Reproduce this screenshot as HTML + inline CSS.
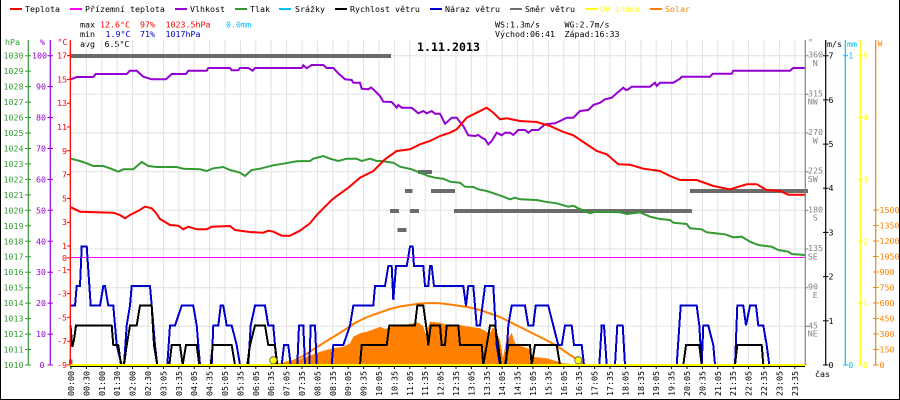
<!DOCTYPE html>
<html><head><meta charset="utf-8">
<style>
html,body{margin:0;padding:0;background:#fff;}
svg{display:block;}
text{font-family:"DejaVu Sans Mono","Liberation Mono",monospace;font-size:8.3px;}
</style></head>
<body>
<svg width="900" height="400" viewBox="0 0 900 400" xmlns="http://www.w3.org/2000/svg">
<rect width="900" height="400" fill="#fff"/>
<!-- border -->
<path d="M0.5 0 V399.5 H899.5 V0" fill="none" stroke="#000" stroke-width="1"/>

<!-- legend -->
<g>
<rect x="10" y="8" width="12" height="2" fill="#ff0000"/><text x="25" y="12" fill="#000">Teplota</text>
<rect x="70" y="8" width="12" height="2" fill="#ff00ff"/><text x="85" y="12" fill="#000">Přízemní teplota</text>
<rect x="175" y="8" width="12" height="2" fill="#9400d3"/><text x="190" y="12" fill="#000">Vlhkost</text>
<rect x="235" y="8" width="12" height="2" fill="#339933"/><text x="250" y="12" fill="#000">Tlak</text>
<rect x="279" y="8" width="12" height="2" fill="#00bfff"/><text x="295" y="12" fill="#000">Srážky</text>
<rect x="335" y="8" width="12" height="2" fill="#000"/><text x="350" y="12" fill="#000">Rychlost větru</text>
<rect x="430" y="8" width="12" height="2" fill="#0000cc"/><text x="445" y="12" fill="#000">Náraz větru</text>
<rect x="510" y="8" width="12" height="2" fill="#707070"/><text x="525" y="12" fill="#000">Směr větru</text>
<rect x="585" y="8" width="12" height="2" fill="#ffff00"/><text x="600" y="12" fill="#ffff00">UV index</text>
<rect x="650" y="8" width="12" height="2" fill="#ff8000"/><text x="665" y="12" fill="#ff8000">Solar</text>
</g>

<!-- stats -->
<text x="80" y="27.3" fill="#000">max</text>
<text x="100" y="27.3" fill="#ff0000">12.6°C</text>
<text x="140" y="27.3" fill="#ff0000">97%</text>
<text x="165.5" y="27.3" fill="#ff0000">1023.5hPa</text>
<text x="226" y="27.3" fill="#00bfff">0.0mm</text>
<text x="80" y="37" fill="#000">min</text>
<text x="105.5" y="37" fill="#0000cc">1.9°C</text>
<text x="140" y="37" fill="#0000cc">71%</text>
<text x="165.5" y="37" fill="#0000cc">1017hPa</text>
<text x="80" y="47" fill="#000">avg</text>
<text x="104.5" y="47" fill="#000">6.5°C</text>
<text x="495" y="27.3" fill="#000">WS:1.3m/s</text>
<text x="564.5" y="27.3" fill="#000">WG:2.7m/s</text>
<text x="495" y="37" fill="#000">Východ:06:41</text>
<text x="564.5" y="37" fill="#000">Západ:16:33</text>

<!-- grid -->
<path fill="none" stroke="#e2e2e2" stroke-width="1" d="M86.4 40V365M101.8 40V365M117.2 40V365M132.6 40V365M148 40V365M163.4 40V365M178.8 40V365M194.2 40V365M209.6 40V365M225 40V365M240.4 40V365M255.8 40V365M271.2 40V365M286.6 40V365M302 40V365M317.4 40V365M332.8 40V365M348.2 40V365M363.6 40V365M379 40V365M394.4 40V365M409.8 40V365M425.2 40V365M440.6 40V365M456 40V365M471.4 40V365M486.8 40V365M502.2 40V365M517.6 40V365M533 40V365M548.4 40V365M563.8 40V365M579.2 40V365M594.6 40V365M610 40V365M625.4 40V365M640.8 40V365M656.2 40V365M671.6 40V365M687 40V365M702.4 40V365M717.8 40V365M733.2 40V365M748.6 40V365M764 40V365M779.4 40V365M794.8 40V365 M70 55.7H805M70 94.3H805M70 133H805M70 171.7H805M70 210.3H805M70 249H805M70 287.7H805M70 326.3H805"/>

<!-- title -->
<text x="417" y="51" fill="#000" style="font-size:11.6px;font-weight:bold" textLength="63">1.11.2013</text>

<!-- solar area -->
<polygon fill="#ff8000" points="280,365 293.3,361.7 306.7,356.7 320,351.7 333.3,348.3 343.3,346.7 350,343.3 353.3,336.7 360,333.3 366.7,331.7 376.7,328.3 380,326.7 385,329 393.3,326 403.3,325 413.3,323.3 418.3,322.7 423,326 426.7,337.3 428.5,326 430,321.7 440,322.7 450,326 460,325 470,326.7 480,328.3 486.7,331.7 490,333.3 493,327 496,333 500,340 503,358 506,342 511.7,332.7 515,343.3 523.3,346.7 530,349.3 531.7,356.7 546.7,358.3 558.3,361.7 563.3,363.3 585,365"/>
<!-- solar theoretical line -->
<polyline fill="none" stroke="#ff8000" stroke-width="2" points="276,365 293,361 305,355 317,347 330,339 343,331 355,323 365,318 377,313.5 390,309 400,306.5 410,305 420,303.5 430,303 440,303.3 450,304.5 460,306 470,307.5 480,310 490,313.5 500,317 510,322 520,327 530,332 540,337 550,342 560,348 570,355 578,360 585,365"/>

<!-- zero line -->
<line x1="70" y1="257.5" x2="805" y2="257.5" stroke="#ff00ff" stroke-width="1"/>

<!-- wind direction bars -->
<g fill="#6b6b6b" shape-rendering="crispEdges">
<rect x="71" y="54" width="320" height="4"/>
<rect x="418" y="170" width="14" height="4"/>
<rect x="405" y="189" width="7.5" height="4"/>
<rect x="431" y="189" width="24" height="4"/>
<rect x="690" y="189" width="118" height="4"/>
<rect x="390" y="209" width="9" height="4"/>
<rect x="410" y="209" width="9" height="4"/>
<rect x="454" y="209" width="238" height="4"/>
<rect x="397.5" y="228" width="9" height="4"/>
<rect x="69" y="359.5" width="3.5" height="4.5"/>
</g>

<!-- pressure -->
<polyline fill="none" stroke="#339933" stroke-width="2" points="71,158.7 80,161 86.7,163.3 93.3,166 103.3,166 110,168.3 118.3,171.7 123.3,169.3 133.3,169.3 141.7,162 148.3,166 156.7,167 176.7,167 183.3,168.7 200,169.3 206.7,171 213.3,168.3 223.3,167 230,170 240,172.7 245,176 251.7,170 260,168.7 273.3,165.3 283.3,163.7 296.7,161.3 310,161 313.3,158.7 323.3,156 330,158.7 338.3,161 346.7,158.7 356.7,158.7 361.7,161 370,158.7 376.7,161 381.7,161 393.3,162.7 400,166.7 411.7,169.3 420,172.7 428.3,176 435,177.7 443.3,178.7 450,181.7 460,182.7 465,186.7 473.3,187 478.3,189.3 486.7,191 496.7,194.3 503.3,196.7 510,199.3 515,197.7 520,199.3 536.7,200 545,201.7 556.7,203.3 568.3,206.7 573.3,205.7 578.3,208.3 590,213.3 595,211.7 620,212.3 626.7,214 640,212.3 650,216.7 660,219 670,220 673.3,222.7 686.7,224 690,228.3 701.7,229.3 706.7,232.3 715,233.3 725,234.3 733.3,237.3 741.7,236.7 750,241.7 758.3,245 771.7,246.7 778.3,250 788.3,251.7 791.7,254 805,255"/>

<!-- humidity -->
<polyline fill="none" stroke="#9400d3" stroke-width="2" points="71,79.3 76.7,77 93.3,77 95.7,74 126.7,74 130,70.7 136.7,70.7 143.3,76.7 151.7,79.3 166,79.3 171.7,74 186,74 188.3,70.7 206.7,70.7 208.3,68 230,68 231.7,70.3 238.3,70.3 240,68 248.3,68 252.7,70.7 255,68 301.7,68 303.3,65.3 306.7,68.3 311.7,65 323.3,65 326.7,68 333.3,68 338.3,73.3 345,79.3 351.7,80 353.3,82.7 360,82.7 361.7,88.7 368.3,89.3 371,87.5 373.3,89.3 380,96 383.3,101.7 391.7,102 396.7,107.7 398.3,105 401.7,107.7 411.7,107.7 418.3,113.3 423.3,111 426.7,113.3 431.7,111 435,113.7 440,113.7 445,123.7 448.3,121 451.7,117.7 456.7,117.7 460,122 463.3,126 468.3,135.3 475,136 478.3,135 481.7,137.7 485,139.3 488.3,144.3 491.7,141 496.7,132.7 501.7,135.3 505,132.7 510,132.7 513.3,135 518.3,130 525,130 528.3,132.7 531.7,130 538.3,130 545,124.3 555,123.3 560,121 566.7,117.7 573.3,117.7 580,111 588.3,110 593.3,105 600,102.7 605,99.3 611.7,97.7 616.7,93.3 623.3,87.7 626,90 628.3,89.3 631.7,86.7 650,86.7 655,82.7 656.7,86 660,82.7 673.3,82.7 680,78.7 681.7,76.7 710,76.7 712.7,73.7 731.7,73.7 733.3,70.7 790,70.7 793.3,68 805,68"/>

<!-- temperature -->
<polyline fill="none" stroke="#ff0000" stroke-width="2" points="71,207.3 80,211.7 113.3,212.7 120,215 125,218.3 130,215 138,211 145,206.7 151.7,208.3 156,213 160,219 165,222 170,225 178.3,225.7 183.3,229.3 188.3,226.7 196.7,229.3 206.7,229.3 211.7,226.7 230,226 235,230 250,232 263.3,232.7 268.3,230.7 273.3,231.7 281.7,235.7 290,235.7 300,230.7 310,223.3 316.7,215 325,206.7 331.7,200 336.7,196 348.3,187.7 360,177.7 373.3,171 385,159.3 396.7,151 410,149.3 420,144.3 430,141 440,136 450,132.7 456.7,129.3 466.7,117.7 476.7,112.7 486.7,107.7 493.3,112.7 500,119.3 506.7,118.3 520,121 536.7,122 550,126 563.3,132 573.3,135.3 583.3,142 596.7,151 606.7,154.3 618.3,164.3 630,164.7 643.3,168.7 660,171 670,176 680,180 696.7,180 713.3,186 730,189.3 746.7,184.3 756.7,184.3 766.7,190 780,191 788.3,194.7 805,194.7"/>

<!-- gust -->
<polyline fill="none" stroke="#0000cc" stroke-width="2" shape-rendering="crispEdges" points="71,305.7 75,305.7 76.7,286 80,286 81.7,246.4 86.7,246.4 90.7,305.7 100,305.7 103.3,286 105,286 108.3,305.7 113.3,305.7 116.7,345.2 121.7,365 124,365 126.7,325.5 130,305.7 131.7,286 150,286 151.7,305.7 155,345.2 157.3,365 167.3,365 170,325.5 175,325.5 181.7,305.7 193.3,305.7 196.7,325.5 200,365 211.7,365 213.3,325.5 218.3,325.5 220.7,305.7 223.3,305.7 226.7,325.5 231.7,325.5 236.7,345.2 240,365 248.3,365 250.7,325.5 255,305.7 265,305.7 268.3,325.5 273.3,325.5 276.7,365 281.7,365 284,345.2 288.3,345.2 290.7,365 297.3,365 299,325.5 303.3,325.5 305,365 309.3,365 310.7,325.5 315,325.5 316.7,365 331.7,365 333.3,345.2 343.3,345.2 350,325.5 353.3,305.7 373.3,305.7 375,286 385,286 388.3,266.2 391.7,266.2 393.3,300 396,266.2 406.7,266.2 410,246.4 412.7,246.4 414,266.2 423.3,266.2 425,286 428.3,286 430,266.2 431.7,266.2 434,286 463.3,286 466,305.7 468.3,286 473.3,286 476.7,325.5 480,325.5 485,286 493.3,286 496.7,345.2 500,365 506,365 508.3,325.5 511.7,305.7 525,305.7 528.3,325.5 533.3,325.5 535.7,305.7 548.3,305.7 553.3,325.5 558.3,345.2 561.7,345.2 565,325.5 571.7,325.5 574,345.2 581.7,345.2 584,365 599.3,365 601.7,325.5 604,325.5 606.7,365 615,365 617.3,325.5 622.7,325.5 625,365 676.7,365 680.7,305.7 696.7,305.7 699.3,325.5 701.7,365 703.3,325.5 708.3,325.5 713.3,345.2 715,365 735,365 737.3,305.7 743.3,305.7 746,325.5 750,305.7 756,305.7 758.3,325.5 763.3,325.5 766.7,345.2 769.3,365 805,365"/>

<!-- wind speed -->
<polyline fill="none" stroke="#000" stroke-width="2" shape-rendering="crispEdges" points="70.5,325.5 72.3,346.7 74,340 76,325.5 111.7,325.5 113.3,345.2 118.3,345.2 121,365 124,365 126.7,345.2 130,325.5 136.7,325.5 140,305.7 151.7,305.7 154,345.2 157.3,365 169.3,365 171.7,345.2 180,345.2 182.7,365 186,345.2 196.7,345.2 199.3,365 210.7,365 212.7,345.2 231.7,345.2 235,365 247.3,365 250,345.2 255,325.5 265,325.5 268.3,345.2 275,345.2 277.3,365 360,365 361.7,345.2 386.7,345.2 389.3,325.5 415,325.5 417.3,305.7 423.3,305.7 426.7,330 428.3,345.2 430.7,325.5 440,325.5 441.7,345.2 445,345.2 446.7,325.5 458.3,325.5 460,345.2 481.7,345.2 483.3,365 486.7,345.2 490,325.5 495,325.5 498.3,345.2 500.7,365 505,365 508.3,345.2 530,345.2 531.7,365 535,345.2 556.7,345.2 560,365 683.3,365 686,345.2 699.3,345.2 701.7,365 735,365 737.3,345.2 761.7,345.2 763.3,365 805,365"/>

<!-- bottom axis -->
<line x1="70" y1="366.5" x2="805" y2="366.5" stroke="#000" stroke-width="1"/>
<line x1="70" y1="365" x2="805" y2="365" stroke="#ffff00" stroke-width="2"/>
<circle cx="273.3" cy="360.3" r="3.6" fill="#ffff00" stroke="#555" stroke-width="0.8"/>
<circle cx="578.3" cy="360.3" r="3.6" fill="#ffff00" stroke="#555" stroke-width="0.8"/>
<path fill="none" stroke="#000" stroke-width="1" d="M71 367V369M86.4 367V369M101.8 367V369M117.2 367V369M132.6 367V369M148 367V369M163.4 367V369M178.8 367V369M194.2 367V369M209.6 367V369M225 367V369M240.4 367V369M255.8 367V369M271.2 367V369M286.6 367V369M302 367V369M317.4 367V369M332.8 367V369M348.2 367V369M363.6 367V369M379 367V369M394.4 367V369M409.8 367V369M425.2 367V369M440.6 367V369M456 367V369M471.4 367V369M486.8 367V369M502.2 367V369M517.6 367V369M533 367V369M548.4 367V369M563.8 367V369M579.2 367V369M594.6 367V369M610 367V369M625.4 367V369M640.8 367V369M656.2 367V369M671.6 367V369M687 367V369M702.4 367V369M717.8 367V369M733.2 367V369M748.6 367V369M764 367V369M779.4 367V369M794.8 367V369"/>

<!-- x labels -->
<g fill="#000">
<text transform="translate(74,396) rotate(-90)">00:00</text>
<text transform="translate(89.4,396) rotate(-90)">00:30</text>
<text transform="translate(104.8,396) rotate(-90)">01:00</text>
<text transform="translate(120.2,396) rotate(-90)">01:30</text>
<text transform="translate(135.6,396) rotate(-90)">02:00</text>
<text transform="translate(151,396) rotate(-90)">02:30</text>
<text transform="translate(166.4,396) rotate(-90)">03:05</text>
<text transform="translate(181.8,396) rotate(-90)">03:35</text>
<text transform="translate(197.2,396) rotate(-90)">04:05</text>
<text transform="translate(212.6,396) rotate(-90)">04:35</text>
<text transform="translate(228,396) rotate(-90)">05:05</text>
<text transform="translate(243.4,396) rotate(-90)">05:35</text>
<text transform="translate(258.8,396) rotate(-90)">06:05</text>
<text transform="translate(274.2,396) rotate(-90)">06:35</text>
<text transform="translate(289.6,396) rotate(-90)">07:05</text>
<text transform="translate(305,396) rotate(-90)">07:35</text>
<text transform="translate(320.4,396) rotate(-90)">08:05</text>
<text transform="translate(335.8,396) rotate(-90)">08:35</text>
<text transform="translate(351.2,396) rotate(-90)">09:05</text>
<text transform="translate(366.6,396) rotate(-90)">09:35</text>
<text transform="translate(382,396) rotate(-90)">10:05</text>
<text transform="translate(397.4,396) rotate(-90)">10:35</text>
<text transform="translate(412.8,396) rotate(-90)">11:05</text>
<text transform="translate(428.2,396) rotate(-90)">11:35</text>
<text transform="translate(443.6,396) rotate(-90)">12:05</text>
<text transform="translate(459,396) rotate(-90)">12:35</text>
<text transform="translate(474.4,396) rotate(-90)">13:05</text>
<text transform="translate(489.8,396) rotate(-90)">13:35</text>
<text transform="translate(505.2,396) rotate(-90)">14:05</text>
<text transform="translate(520.6,396) rotate(-90)">14:35</text>
<text transform="translate(536,396) rotate(-90)">15:05</text>
<text transform="translate(551.4,396) rotate(-90)">15:35</text>
<text transform="translate(566.8,396) rotate(-90)">16:05</text>
<text transform="translate(582.2,396) rotate(-90)">16:35</text>
<text transform="translate(597.6,396) rotate(-90)">17:05</text>
<text transform="translate(613,396) rotate(-90)">17:35</text>
<text transform="translate(628.4,396) rotate(-90)">18:05</text>
<text transform="translate(643.8,396) rotate(-90)">18:35</text>
<text transform="translate(659.2,396) rotate(-90)">19:05</text>
<text transform="translate(674.6,396) rotate(-90)">19:35</text>
<text transform="translate(690,396) rotate(-90)">20:05</text>
<text transform="translate(705.4,396) rotate(-90)">20:35</text>
<text transform="translate(720.8,396) rotate(-90)">21:05</text>
<text transform="translate(736.2,396) rotate(-90)">21:35</text>
<text transform="translate(751.6,396) rotate(-90)">22:05</text>
<text transform="translate(767,396) rotate(-90)">22:35</text>
<text transform="translate(782.4,396) rotate(-90)">23:05</text>
<text transform="translate(797.8,396) rotate(-90)">23:35</text>
</g>
<text x="815" y="377" fill="#000">čas</text>

<!-- left axes -->
<line x1="28.3" y1="40" x2="28.3" y2="365" stroke="#339933" stroke-width="1.2"/>
<line x1="50.3" y1="40" x2="50.3" y2="365" stroke="#9400d3" stroke-width="1.2"/>
<line x1="70.3" y1="40" x2="70.3" y2="365" stroke="#ff0000" stroke-width="1.3"/>
<text x="5" y="45" fill="#339933">hPa</text>
<text x="40" y="45" fill="#9400d3">%</text>
<text x="57.5" y="45" fill="#ff0000">°C</text>

<path fill="none" stroke="#339933" stroke-width="1" d="M25 55.7H31M25 71.1H31M25 86.6H31M25 102.1H31M25 117.5H31M25 133H31M25 148.5H31M25 163.9H31M25 179.4H31M25 194.9H31M25 210.3H31M25 225.8H31M25 241.3H31M25 256.7H31M25 272.2H31M25 287.7H31M25 303.1H31M25 318.6H31M25 334.1H31M25 349.5H31M25 365H31"/>
<g fill="#339933" text-anchor="end">
<text x="23.5" y="58.7">1030</text><text x="23.5" y="74.1">1029</text><text x="23.5" y="89.6">1028</text><text x="23.5" y="105.1">1027</text><text x="23.5" y="120.5">1026</text><text x="23.5" y="136">1025</text><text x="23.5" y="151.5">1024</text><text x="23.5" y="166.9">1023</text><text x="23.5" y="182.4">1022</text><text x="23.5" y="197.9">1021</text><text x="23.5" y="213.3">1020</text><text x="23.5" y="228.8">1019</text><text x="23.5" y="244.3">1018</text><text x="23.5" y="259.7">1017</text><text x="23.5" y="275.2">1016</text><text x="23.5" y="290.7">1015</text><text x="23.5" y="306.1">1014</text><text x="23.5" y="321.6">1013</text><text x="23.5" y="337.1">1012</text><text x="23.5" y="352.5">1011</text><text x="23.5" y="368">1010</text>
</g>

<path fill="none" stroke="#9400d3" stroke-width="1" d="M47.5 55.7H53M47.5 86.6H53M47.5 117.5H53M47.5 148.5H53M47.5 179.4H53M47.5 210.3H53M47.5 241.3H53M47.5 272.2H53M47.5 303.1H53M47.5 334.1H53M47.5 365H53"/>
<g fill="#9400d3" text-anchor="end">
<text x="47" y="58.7">100</text><text x="46" y="89.6">90</text><text x="46" y="120.5">80</text><text x="46" y="151.5">70</text><text x="46" y="182.4">60</text><text x="46" y="213.3">50</text><text x="46" y="244.3">40</text><text x="46" y="275.2">30</text><text x="46" y="306.1">20</text><text x="46" y="337.1">10</text><text x="44.5" y="368">0</text>
</g>

<path fill="none" stroke="#ff0000" stroke-width="1" d="M67 55.6H70M67 79.4H70M67 103.2H70M67 127H70M67 150.8H70M67 174.6H70M67 198.4H70M67 222.2H70M67 246H70M67 257.9H70M67 269.8H70M67 293.6H70M67 317.4H70M67 341.2H70M67 365H70"/>
<g fill="#ff0000" text-anchor="end">
<text x="67" y="58.6">17</text><text x="67" y="82.4">15</text><text x="67" y="106.2">13</text><text x="67" y="130">11</text><text x="67" y="153.8">9</text><text x="67" y="177.6">7</text><text x="67" y="201.4">5</text><text x="67" y="225.2">3</text><text x="67" y="249">1</text><text x="67" y="260.9">0</text><text x="67" y="272.8">-1</text><text x="67" y="296.6">-3</text><text x="67" y="320.4">-5</text><text x="67" y="344.2">-7</text><text x="67" y="368">-9</text>
</g>

<!-- right axes -->
<line x1="805.3" y1="40" x2="805.3" y2="365" stroke="#808080" stroke-width="1.2"/>
<line x1="825.7" y1="40" x2="825.7" y2="365" stroke="#000" stroke-width="1.2"/>
<line x1="845.3" y1="40" x2="845.3" y2="365" stroke="#00bfff" stroke-width="1.2"/>
<line x1="860.3" y1="40" x2="860.3" y2="365" stroke="#ffff00" stroke-width="1.2"/>
<line x1="875.7" y1="40" x2="875.7" y2="365" stroke="#ff8000" stroke-width="1.2"/>
<text x="808" y="45" fill="#808080">°</text>
<text x="827" y="47" fill="#000">m/s</text>
<text x="847" y="47" fill="#00bfff">mm</text>
<text x="877.5" y="46.5" fill="#ff8000">W</text>

<path fill="none" stroke="#808080" stroke-width="1" d="M805 55.7H808.5M805 94.3H808.5M805 133H808.5M805 171.7H808.5M805 210.3H808.5M805 249H808.5M805 287.7H808.5M805 326.3H808.5"/>
<g fill="#808080">
<text x="808" y="57.7">360</text><text x="812.8" y="66">N</text>
<text x="808" y="96.3">315</text><text x="807.8" y="104.6">NW</text>
<text x="808" y="135">270</text><text x="812.8" y="143.3">W</text>
<text x="808" y="173.7">225</text><text x="807.8" y="182">SW</text>
<text x="808" y="212.3">180</text><text x="812.8" y="220.6">S</text>
<text x="808" y="251">135</text><text x="807.8" y="259.3">SE</text>
<text x="808" y="289.7">90</text><text x="812.8" y="298">E</text>
<text x="808" y="328.3">45</text><text x="807.8" y="336.6">NE</text>
</g>

<path fill="none" stroke="#000" stroke-width="1" d="M823 55.7H828.5M823 99.9H828.5M823 144.1H828.5M823 188.2H828.5M823 232.4H828.5M823 276.6H828.5M823 320.8H828.5M823 365H828.5"/>
<g fill="#000">
<text x="828.5" y="58.7">7</text><text x="828.5" y="102.9">6</text><text x="828.5" y="147.1">5</text><text x="828.5" y="191.2">4</text><text x="828.5" y="235.4">3</text><text x="828.5" y="279.6">2</text><text x="828.5" y="323.8">1</text><text x="828.5" y="368">0</text>
</g>

<path fill="none" stroke="#00bfff" stroke-width="1" d="M843 55.7H848M843 365H848"/>
<g fill="#00bfff"><text x="848.3" y="58.7">1</text><text x="848.3" y="368">0</text></g>

<path fill="none" stroke="#ffff00" stroke-width="1" d="M858 55.7H862.5M858 117.5H862.5M858 179.4H862.5M858 241.3H862.5M858 303.1H862.5M858 365H862.5"/>
<g fill="#ffff00">
<text x="863" y="58.7">5</text><text x="863" y="120.5">4</text><text x="863" y="182.4">3</text><text x="863" y="244.3">2</text><text x="863" y="306.1">1</text><text x="863" y="368">0</text>
</g>

<path fill="none" stroke="#ff8000" stroke-width="1" d="M873 210H878.5M873 225.5H878.5M873 241H878.5M873 256.5H878.5M873 272H878.5M873 287.5H878.5M873 303H878.5M873 318.5H878.5M873 334H878.5M873 349.5H878.5M873 365H878.5"/>
<g fill="#ff8000">
<text x="879.5" y="213">1500</text><text x="879.5" y="228.5">1350</text><text x="879.5" y="244">1200</text><text x="879.5" y="259.5">1050</text><text x="879.5" y="275">900</text><text x="879.5" y="290.5">750</text><text x="879.5" y="306">600</text><text x="879.5" y="321.5">450</text><text x="879.5" y="337">300</text><text x="879.5" y="352.5">150</text><text x="879.5" y="368">0</text>
</g>
</svg>
</body></html>
